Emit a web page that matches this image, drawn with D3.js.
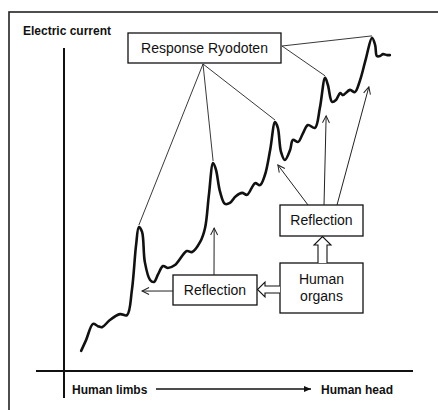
<!DOCTYPE html>
<html>
<head>
<meta charset="utf-8">
<script src="https://cdn.jsdelivr.net/npm/d3@7"></script>
<style>
  body { margin: 0; background: #fff; }
  text { font-family: "Liberation Sans", Arial, sans-serif; fill: #111; }
</style>
</head>
<body>
<svg id="chart" width="438" height="410"></svg>
<script>
// Curve data: position along body (limbs -> head) and electric current
const position = [4.9, 6.3, 8.3, 9.7, 10.9, 13.1, 16.0, 18.0, 19.4, 20.6, 21.4, 22.3, 23.1, 24.6, 25.7, 26.9,
  28.3, 29.7, 31.7, 35.1, 36.6, 38.9, 40.3, 41.4, 42.6, 43.4, 44.6, 46.0, 47.4, 49.1, 50.9, 52.3,
  54.6, 56.0, 57.4, 58.9, 60.3, 61.1, 62.0, 63.1, 64.6, 65.4, 66.9, 68.3, 69.7, 71.7, 73.1, 74.6,
  75.4, 76.6, 77.7, 78.9, 79.7, 81.7, 83.1, 84.6, 86.3, 88.0, 88.9, 89.4, 90.3, 91.1, 92.3, 93.1];
const current = [6.2, 9.5, 14.5, 13.8, 13.5, 15.7, 17.5, 17.2, 24.9, 38.8, 44.3, 42.8, 33.5, 28.0, 27.4, 29.8,
  32.3, 31.7, 32.6, 36.9, 36.6, 39.7, 44.0, 54.2, 64.0, 62.0, 55.1, 51.4, 51.7, 53.8, 54.8, 54.2,
  57.8, 57.2, 60.3, 68.0, 76.6, 74.8, 67.4, 64.9, 68.0, 71.1, 70.5, 73.2, 75.7, 74.8, 80.9, 90.2,
  88.0, 82.8, 83.4, 85.5, 84.9, 86.5, 85.8, 89.5, 96.3, 102.5, 100.3, 96.9, 96.9, 97.5, 97.2, 97.2];

// Indices of the response peaks
const peakIndex = [10, 24, 36, 47, 57];

// Reflection arrow targets (position, current)
const lowerTargets = [[22.3, 24.6], [42.9, 44.0]];
const upperTargets = [[61.1, 63.4], [74.9, 78.5], [87.1, 87.4]];

// Labels
const yLabel = 'Electric current';
const xLabelStart = 'Human limbs';
const xLabelEnd = 'Human head';
const responseLabel = 'Response Ryodoten';
const reflectionLabel = 'Reflection';
const organLabel = ['Human', 'organs'];

const svg = d3.select('#chart');

const x = d3.scaleLinear().domain([0, 100]).range([64, 414]);
const y = d3.scaleLinear().domain([0, 100]).range([371, 46]);

// arrow markers
const defs = svg.append('defs');
defs.append('marker')
  .attr('id', 'open')
  .attr('viewBox', '-8 -5 10 10')
  .attr('markerWidth', 10)
  .attr('markerHeight', 10)
  .attr('markerUnits', 'userSpaceOnUse')
  .attr('orient', 'auto')
  .append('path')
  .attr('d', 'M-7,-3.5 L0,0 L-7,3.5')
  .attr('fill', 'none')
  .attr('stroke', '#222')
  .attr('stroke-width', 1);
defs.append('marker')
  .attr('id', 'solid')
  .attr('viewBox', '-8 -5 10 10')
  .attr('markerWidth', 10)
  .attr('markerHeight', 10)
  .attr('markerUnits', 'userSpaceOnUse')
  .attr('orient', 'auto')
  .append('path')
  .attr('d', 'M-7,-3 L0,0 L-7,3 Z')
  .attr('fill', '#111');

// outer frame (cut off at right and bottom)
svg.append('rect')
  .attr('x', 9).attr('y', 12)
  .attr('width', 460).attr('height', 430)
  .attr('fill', 'none')
  .attr('stroke', '#222')
  .attr('stroke-width', 1.6);

// axes
svg.append('line')
  .attr('x1', 64).attr('x2', 64)
  .attr('y1', 48).attr('y2', 398)
  .attr('stroke', '#111').attr('stroke-width', 2);
svg.append('line')
  .attr('x1', 36).attr('x2', 413)
  .attr('y1', 371).attr('y2', 371)
  .attr('stroke', '#111').attr('stroke-width', 2);

svg.append('text')
  .attr('x', 23).attr('y', 35)
  .style('font-size', '12px').style('font-weight', 'bold')
  .text(yLabel);

svg.append('text')
  .attr('x', 72).attr('y', 394)
  .style('font-size', '12px').style('font-weight', 'bold')
  .text(xLabelStart);
svg.append('text')
  .attr('x', 321).attr('y', 394)
  .style('font-size', '12px').style('font-weight', 'bold')
  .text(xLabelEnd);
svg.append('line')
  .attr('x1', 156).attr('x2', 311)
  .attr('y1', 389).attr('y2', 389)
  .attr('stroke', '#111').attr('stroke-width', 1.3)
  .attr('marker-end', 'url(#solid)');

// the current curve
const points = position.map((p, i) => [p, current[i]]);
const line = d3.line()
  .x(d => x(d[0]))
  .y(d => y(d[1]))
  .curve(d3.curveCatmullRom.alpha(0.5));

svg.append('path')
  .datum(points)
  .attr('d', line)
  .attr('fill', 'none')
  .attr('stroke', '#111')
  .attr('stroke-width', 2.6)
  .attr('stroke-linejoin', 'round')
  .attr('stroke-linecap', 'round');

// Response box and lines to the peaks
const apexBottom = [203, 64];
const apexRight = [282, 46];
peakIndex.forEach((idx, i) => {
  const from = i < 3 ? apexBottom : apexRight;
  svg.append('line')
    .attr('x1', from[0]).attr('y1', from[1])
    .attr('x2', x(position[idx])).attr('y2', y(current[idx]) - 2)
    .attr('stroke', '#222').attr('stroke-width', 0.9);
});

function box(x0, y0, w, h, lines, cy) {
  svg.append('rect')
    .attr('x', x0).attr('y', y0)
    .attr('width', w).attr('height', h)
    .attr('fill', '#fff')
    .attr('stroke', '#111')
    .attr('stroke-width', 1.3);
  lines.forEach((t, i) => {
    svg.append('text')
      .attr('x', x0 + w / 2)
      .attr('y', cy[i])
      .attr('text-anchor', 'middle')
      .attr('dominant-baseline', 'central')
      .style('font-size', '14px')
      .text(t);
  });
}

box(128, 33, 153, 30, [responseLabel], [48]);
box(173, 275, 84, 30, [reflectionLabel], [290]);
box(280, 205, 83, 31, [reflectionLabel], [220]);
box(280, 263, 83, 50, organLabel, [279, 296]);

// reflection arrows
const lowerStarts = [[173, 291], [214, 275]];
lowerTargets.forEach((t, i) => {
  svg.append('line')
    .attr('x1', lowerStarts[i][0]).attr('y1', lowerStarts[i][1])
    .attr('x2', x(t[0])).attr('y2', y(t[1]))
    .attr('stroke', '#222').attr('stroke-width', 1)
    .attr('marker-end', 'url(#open)');
});
const upperStarts = [[308, 205], [324, 205], [337, 205]];
upperTargets.forEach((t, i) => {
  svg.append('line')
    .attr('x1', upperStarts[i][0]).attr('y1', upperStarts[i][1])
    .attr('x2', x(t[0])).attr('y2', y(t[1]))
    .attr('stroke', '#222').attr('stroke-width', 1)
    .attr('marker-end', 'url(#open)');
});

// hollow block arrows from the organs box
svg.append('path')
  .attr('d', 'M318,263 L318,245 L314,245 L322.5,236.5 L331,245 L327,245 L327,263')
  .attr('fill', '#fff').attr('stroke', '#111').attr('stroke-width', 1.1);
svg.append('path')
  .attr('d', 'M280,286 L265,286 L265,282 L257.5,289.5 L265,297 L265,293 L280,293')
  .attr('fill', '#fff').attr('stroke', '#111').attr('stroke-width', 1.1);
</script>
</body>
</html>
